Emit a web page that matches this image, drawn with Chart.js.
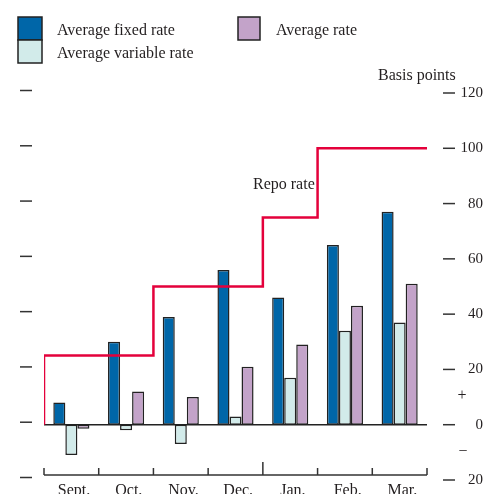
<!DOCTYPE html>
<html><head><meta charset="utf-8">
<script src="https://cdn.jsdelivr.net/npm/chart.js@4"></script>
<style>html,body{margin:0;padding:0;background:#fff;overflow:hidden}</style>
</head><body>
<canvas id="c" width="486" height="494"></canvas>
<script>
const categories = ['Sept.','Oct.','Nov.','Dec.','Jan.','Feb.','Mar.'];
const fixedRate = [8, 30, 39, 56, 46, 65, 77];
const variableRate = [-11, -2, -7, 3, 17, 34, 37];
const averageRate = [-1.5, 12, 10, 21, 29, 43, 51];
// repo rate steps, x in category-index units (-0.5 = left edge of Sept.)
const repoX = [-0.5, -0.5, 1.5, 3.5, 4.5, 6.5];
const repoY = [0, 25, 50, 75, 100, 100];
const yMin = -20, yMax = 120, yStep = 20;

const FONT = 'Liberation Serif';
const TXT = '#231f20';

const decor = {
  id: 'decor',
  beforeDatasetsDraw(chart) {
    const {ctx, chartArea: a, scales: {y}} = chart;
    const y0 = y.getPixelForValue(0);
    ctx.save();
    ctx.strokeStyle = '#222'; ctx.lineWidth = 1.5;
    ctx.beginPath(); ctx.moveTo(a.left, y0); ctx.lineTo(a.right, y0); ctx.stroke();
    ctx.restore();
  },
  afterDraw(chart) {
    const {ctx, scales: {y, x}} = chart;
    ctx.save();
    ctx.strokeStyle = '#333'; ctx.lineWidth = 1.5;
    y.ticks.forEach(t => {
      const py = y.getPixelForValue(t.value);
      ctx.beginPath(); ctx.moveTo(443, py); ctx.lineTo(455, py); ctx.stroke();
      ctx.beginPath(); ctx.moveTo(20, py - 2.5); ctx.lineTo(32, py - 2.5); ctx.stroke();
    });
    const by = y.getPixelForValue(yMin) - 5;
    const n = categories.length;
    ctx.beginPath(); ctx.moveTo(x.getPixelForValue(-0.5), by); ctx.lineTo(x.getPixelForValue(n - 0.5), by); ctx.stroke();
    for (let i = 0; i <= n; i++) {
      const px = x.getPixelForValue(i - 0.5);
      ctx.beginPath(); ctx.moveTo(px, by); ctx.lineTo(px, by - (i === 4 ? 13 : 7)); ctx.stroke();
    }
    ctx.fillStyle = TXT;
    ctx.font = '16px "' + FONT + '"';
    ctx.textAlign = 'center'; ctx.textBaseline = 'middle';
    ctx.fillText('+', 462, y.getPixelForValue(10) - 1);
    ctx.fillText('\u2212', 463, y.getPixelForValue(-10) - 1);
    ctx.textAlign = 'left'; ctx.textBaseline = 'alphabetic';
    ctx.fillText('Basis points', 378, 80);
    ctx.fillText('Repo rate', 253, 189);
    const ds = chart.data.datasets;
    const items = [
      {d: ds[0], bx: 18, by: 17, w: 24, tx: 57, ty: 35},
      {d: ds[1], bx: 18, by: 40, w: 24, tx: 57, ty: 58},
      {d: ds[2], bx: 238, by: 17, w: 22, tx: 276, ty: 35}
    ];
    items.forEach(it => {
      ctx.fillStyle = it.d.backgroundColor;
      ctx.fillRect(it.bx, it.by, it.w, 23);
      ctx.strokeStyle = '#222'; ctx.lineWidth = 1.5;
      ctx.strokeRect(it.bx, it.by, it.w, 23);
      ctx.fillStyle = TXT;
      ctx.fillText(it.d.label, it.tx, it.ty);
    });
    ctx.restore();
  }
};

const toPts = arr => arr.map((v, i) => ({x: i, y: v}));
const barCommon = {borderColor: '#222', borderWidth: 1.5, borderSkipped: false,
  categoryPercentage: 0.66, barPercentage: 1, order: 1};

new Chart(document.getElementById('c'), {
  type: 'bar',
  data: {
    datasets: [
      Object.assign({label: 'Average fixed rate', data: toPts(fixedRate), backgroundColor: '#0066a8'}, barCommon),
      Object.assign({label: 'Average variable rate', data: toPts(variableRate), backgroundColor: '#d2ebea'}, barCommon),
      Object.assign({label: 'Average rate', data: toPts(averageRate), backgroundColor: '#c3a3c9'}, barCommon),
      {type: 'line', label: 'Repo rate',
       data: repoX.map((x, i) => ({x: x, y: repoY[i]})),
       stepped: 'before', borderColor: '#e4003b', borderWidth: 2.5,
       pointRadius: 0, fill: false, order: 0}
    ]
  },
  options: {
    responsive: false, animation: false, devicePixelRatio: 1,
    layout: {padding: {left: 44, right: 3, top: 93, bottom: 0}},
    plugins: {legend: {display: false}, tooltip: {enabled: false}},
    scales: {
      x: {type: 'linear', min: -0.5, max: categories.length - 0.5, offset: false,
          grid: {display: false, offset: false, drawTicks: false}, border: {display: false},
          afterBuildTicks: s => { s.ticks = categories.map((c, i) => ({value: i + 0.05})); },
          ticks: {font: {family: FONT, size: 16}, color: TXT, padding: 1, maxRotation: 0, autoSkip: false,
                  callback: v => categories[Math.round(v)]},
          afterFit: s => { s.height = 14; }},
      y: {position: 'right', min: yMin, max: yMax,
          grid: {display: false}, border: {display: false},
          ticks: {stepSize: yStep, crossAlign: 'far', font: {family: FONT, size: 15}, color: TXT,
                  callback: v => String(Math.abs(v))},
          afterFit: s => { s.width = 56; }}
    }
  },
  plugins: [decor]
});
</script>
</body></html>
